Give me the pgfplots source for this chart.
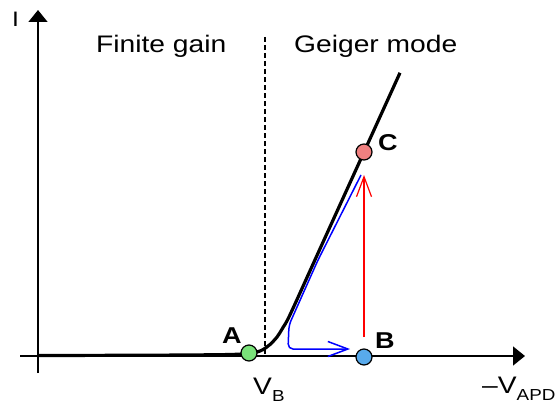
\documentclass[border=0pt]{standalone}
\usepackage{pgfplots}
\pgfplotsset{compat=1.18}
\usepackage{fontspec}
\setmainfont{Liberation Sans}[FakeStretch=1.18]
\usetikzlibrary{arrows.meta}

\definecolor{ptA}{RGB}{122,226,122}
\definecolor{ptB}{RGB}{88,170,236}
\definecolor{ptC}{RGB}{240,128,128}

\newcommand{\lbl}{\fontsize{24}{28}\selectfont}
\newcommand{\sub}[1]{\raisebox{-7bp}{\fontsize{16}{19}\selectfont #1}}

\begin{document}
\begin{tikzpicture}
\begin{axis}[
  width=557bp, height=407bp, scale only axis,
  hide axis, clip=false,
  xmin=0, xmax=557, ymin=0, ymax=407,
  y dir=reverse,
]
% frame of the drawing area
\addplot[draw=none] coordinates {(0,0) (557,407)};

% current and voltage axes
\addplot[line width=1.5bp, -{Triangle[length=12bp,width=19bp]}]
  coordinates {(20,356) (525,356)};
\addplot[line width=1.5bp, -{Triangle[length=12bp,width=19bp]}]
  coordinates {(38,373) (38,10)};

% breakdown voltage
\addplot[line width=1.2bp, dash pattern=on 5bp off 3bp]
  coordinates {(265,37) (265,356)};

% I-V characteristic
\addplot[line width=3.2bp, smooth, tension=0.5]
  coordinates {(38,355.5) (150,355.2) (225,354.6) (249,353.5) (257,352)
               (263,349.6) (270,344.5) (277,337) (283,327.5) (290,314.8)
               (315,259.8) (364,152) (400,72.8)};

% quench and reset path
\addplot[blue, line width=1.5bp, rounded corners=5bp,
  -{Straight Barb[length=20bp,width=15bp]}]
  coordinates {(361,175) (318,260) (289,325) (288,349) (350,349)};

% avalanche
\addplot[red, line width=1.2bp, -{Straight Barb[length=20bp,width=15bp]}]
  coordinates {(364,337) (364,175)};

% operating points
\addplot[only marks, mark=*, mark size=8bp,
  mark options={fill=ptA, draw=black, line width=1.2bp}]
  coordinates {(249,353)};
\addplot[only marks, mark=*, mark size=8bp,
  mark options={fill=ptB, draw=black, line width=1.2bp}]
  coordinates {(364,357)};
\addplot[only marks, mark=*, mark size=8bp,
  mark options={fill=ptC, draw=black, line width=1.2bp}]
  coordinates {(364,152)};

% labels
\node[anchor=base, font=\fontsize{23}{27}\selectfont\bfseries, inner sep=0pt] at (axis cs:232,343) {A};
\node[anchor=base, font=\fontsize{23}{27}\selectfont\bfseries, inner sep=0pt] at (axis cs:385,348) {B};
\node[anchor=base, font=\fontsize{23}{27}\selectfont\bfseries, inner sep=0pt] at (axis cs:388,150.7) {C};

\node[anchor=base west, font=\lbl, inner sep=0pt] at (axis cs:96,52.3) {Finite gain};
\node[anchor=base west, font=\lbl, inner sep=0pt] at (axis cs:294,52.3) {Geiger mode};

\node[anchor=base west, font=\fontsize{21}{25}\selectfont, inner sep=0pt] at (axis cs:12,27) {I};
\node[anchor=base west, font=\lbl, inner sep=0pt] at (axis cs:253,394) {V\sub{B}};
\node[anchor=base west, font=\lbl, inner sep=0pt] at (axis cs:482,393) {–V\sub{APD}};
\end{axis}
\end{tikzpicture}
\end{document}
